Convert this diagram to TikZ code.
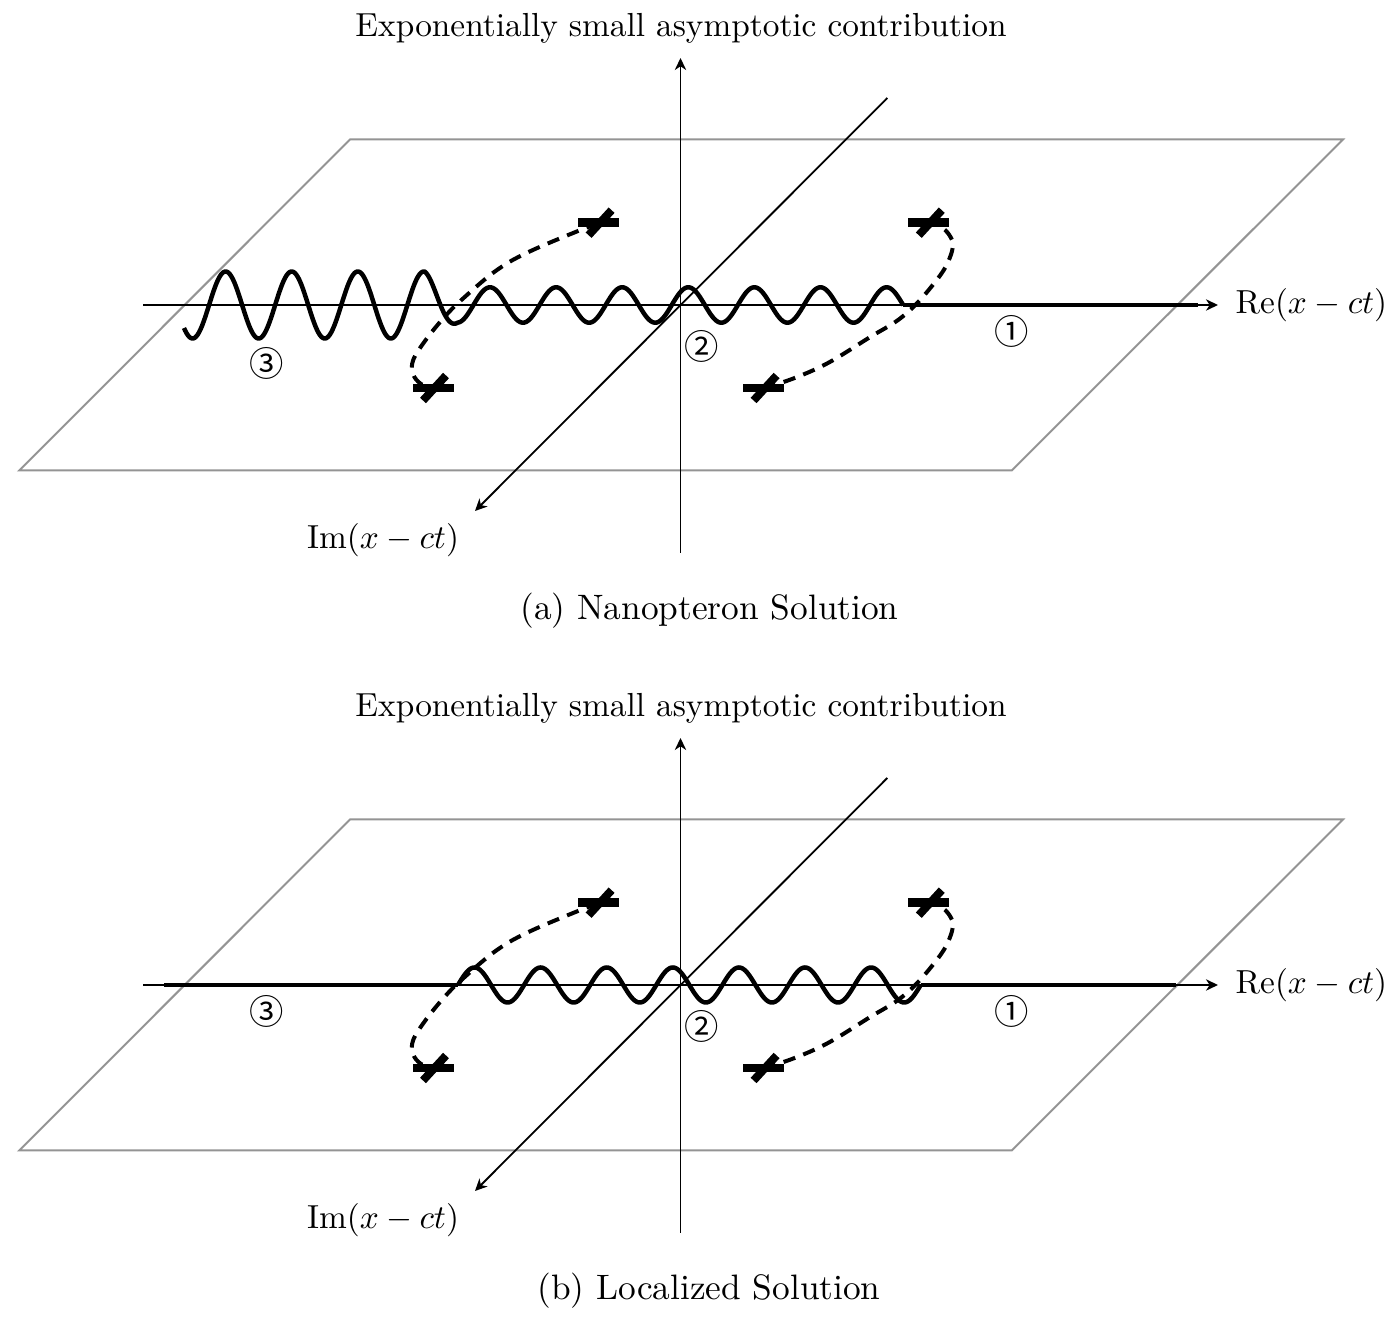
\documentclass[tikz,border=0pt]{standalone}
\usepackage{fontspec}
\newfontfamily\circfont{Noto Sans CJK JP}
\usetikzlibrary{arrows.meta}
\tikzset{
  axisline/.style={line width=0.55pt, -{Stealth[length=3.6pt,width=3.4pt,inset=1.1pt]}},
  planeedge/.style={draw=black!42, line width=0.6pt, line join=miter},
  cutline/.style={line width=1.25pt},
  waveline/.style={line width=1.35pt, line join=round},
  contour/.style={line width=1.2pt, dash pattern=on 3.7pt off 2.6pt},
  lbl/.style={inner sep=0pt, font=\fontsize{10}{12}\selectfont},
  caplbl/.style={inner sep=0pt, font=\fontsize{10.6}{13}\selectfont},
  numlbl/.style={inner sep=0pt, font=\circfont\fontsize{10.3}{12}\selectfont},
  sing/.pic={\fill (-20.5,-4.2) rectangle (20.5,4.2);
             \draw[line width=2.4pt] (-10,12.5) -- (13,-12.5);}
}
\newcommand\panelbase[1]{%
  \draw[planeedge] (350,139.5) -- (1343,139.5) -- (1011.7,470.5) -- (19.3,470.5) -- cycle;
  \coordinate (reS#1) at (143,305);
  \coordinate (reE#1) at (1218,305);
  \coordinate (vS#1) at (680.5,553);
  \coordinate (vE#1) at (680.5,58);
  \coordinate (dS#1) at (887.3,98);
  \coordinate (dE#1) at (475,511);
  \draw[axisline] (reS#1) -- (reE#1);
  \draw[axisline] (vS#1) -- (vE#1);
  \draw[axisline] (dS#1) -- (dE#1);
  \node[lbl, anchor=west] (relab#1) at (1235,305) {$\mathrm{Re}(x-ct)$};
  \node[lbl] (imlab#1) at (383,540) {$\mathrm{Im}(x-ct)$};
  \node[lbl] (toplab#1) at (681,28) {Exponentially small asymptotic contribution};
}
\newcommand\panelcontours[1]{%
  \draw[contour] plot[smooth, tension=0.6] coordinates {(598,223) (532.9,250) (497,270) (461.4,300) (443.6,318) (425.7,340) (413.2,360) (413,374) (421,384) (433,388)};
  \draw[contour] plot[smooth, tension=0.6] coordinates {(763.5,388) (792,379) (828,363) (870.7,336.7) (895.7,321.7) (913.6,306.7) (931.4,286.7) (945.7,266.7) (952.9,246.7) (949.3,235) (940,226) (928.8,222.7)};
  \pic (sTL#1) at (598.6,222.7) {sing};
  \pic (sBL#1) at (433,388) {sing};
  \pic (sTR#1) at (928.8,222.7) {sing};
  \pic (sBR#1) at (763.6,388) {sing};
}
\begin{document}
\begin{tikzpicture}[x=0.3pt,y=-0.3pt]
\useasboundingbox (0,0) rectangle (1400,1322);
% ---------------- (a) ----------------
\panelbase{a}
\draw[waveline] plot[domain=184:903.3, samples=700]
  (\x, {305 - (17.7+15.8*min(1,max(0,(457.7-\x)/33.05)))*cos(5.4463*(\x-490))});
\coordinate (wEa) at (903.3,305);
\coordinate (cEa) at (1197.5,305);
\draw[cutline] (wEa) -- (cEa);
\panelcontours{a}
\node[numlbl] (n1a) at (1011.8,331.7) {①};
\node[numlbl] (n2a) at (702,346.7) {②};
\node[numlbl] (n3a) at (266.8,363.3) {③};
\node[caplbl] (capa) at (709.5,611) {(a) Nanopteron Solution};
% ---------------- (b) ----------------
\begin{scope}[yshift=-204pt]
\panelbase{b}
\coordinate (cSb) at (164,305);
\coordinate (wSb) at (458,305);
\coordinate (wEb) at (920.7,305);
\coordinate (cEb) at (1176,305);
\draw[cutline] (cSb) -- (wSb);
\draw[waveline] plot[domain=458:920.7, samples=500]
  (\x, {305 - 17.5*sin(5.4463*(\x-458))});
\draw[cutline] (wEb) -- (cEb);
\panelcontours{b}
\node[numlbl] (n1b) at (1011.8,331.7) {①};
\node[numlbl] (n2b) at (702,346.7) {②};
\node[numlbl] (n3b) at (266.8,331.7) {③};
\node[caplbl] (capb) at (709,611) {(b) Localized Solution};
\end{scope}
\end{tikzpicture}
\end{document}
